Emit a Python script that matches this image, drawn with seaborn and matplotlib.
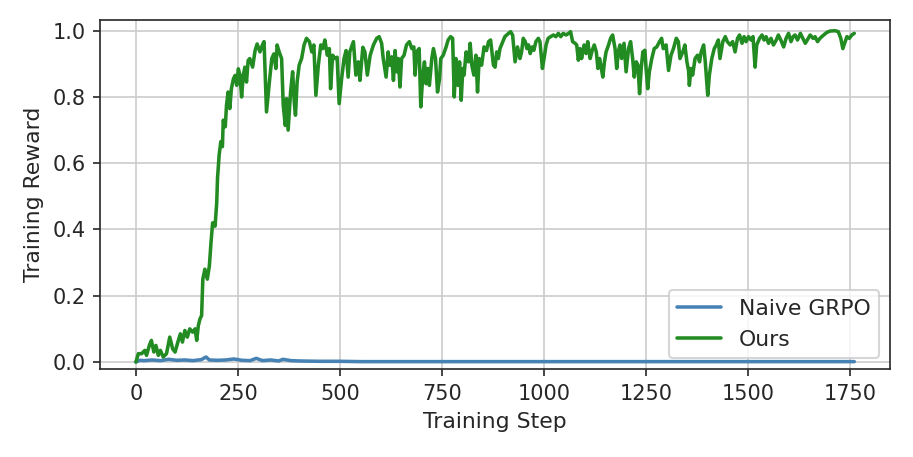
import pandas as pd
import matplotlib
matplotlib.use("Agg")
import matplotlib.pyplot as plt
import seaborn as sns

# -----------------------------
# Datos
# -----------------------------
naive_steps = [0, 10, 20, 40, 60, 80, 100, 120, 140, 160, 172, 180, 200, 220, 240,
               260, 280, 295, 310, 330, 350, 360, 380, 400, 450, 500, 550, 700,
               900, 1100, 1300, 1500, 1700, 1760]
naive_reward = [0.0, 0.005, 0.004, 0.006, 0.004, 0.008, 0.005, 0.006, 0.004, 0.007,
                0.015, 0.006, 0.005, 0.006, 0.009, 0.005, 0.004, 0.011, 0.004, 0.006,
                0.003, 0.008, 0.004, 0.003, 0.002, 0.002, 0.001, 0.001,
                0.001, 0.001, 0.001, 0.001, 0.001, 0.001]

ours_steps = [
    0, 6, 14, 22, 26, 33, 38, 44, 49, 55, 60, 67, 75, 83, 90, 96, 104, 109, 114, 120,
    126, 132, 139, 145, 149, 153, 157, 161, 164, 169, 175, 180, 184, 188, 194, 198, 200,
    204, 208, 212, 214, 219, 222, 226, 230, 234, 239, 243, 247, 251, 255, 259, 263, 267,
    271, 275,
    279, 286, 292, 297, 304, 310, 314, 320, 327, 333, 338, 343, 346, 351, 357, 361, 366,
    369, 373, 379, 384, 388, 391, 395, 400, 406, 412, 418, 425, 431, 436, 441, 447, 453,
    458, 463, 469, 474, 477, 482, 488, 493, 498, 504, 510, 515, 520, 524, 533, 539, 545,
    549, 556, 561, 567, 574,
    582, 590, 596, 602, 606, 613, 618, 622, 627, 631, 635, 639, 643, 647, 651, 657, 663,
    670, 676, 681, 684, 688, 694, 698, 703, 707, 711, 715, 719, 725, 729, 734, 739, 744,
    747, 753, 760, 765, 771, 776, 780, 784, 789, 793, 797, 801, 804, 809, 815, 819, 823,
    828, 833, 837, 841, 847, 853, 859, 864, 869,
    876, 880, 884, 888, 892, 899, 904, 913, 918, 923, 929, 935, 941, 945, 949, 954, 958,
    962, 966, 971, 975, 980, 986, 990, 996, 1000, 1005, 1010, 1016, 1023, 1029, 1035,
    1041, 1047, 1054, 1060, 1065, 1070, 1076, 1080, 1084, 1088, 1092, 1098, 1103, 1107,
    1113, 1118, 1123, 1128, 1132, 1136, 1139, 1144, 1148, 1152, 1158, 1163,
    1168, 1174, 1178, 1182, 1186, 1190, 1196, 1201, 1207, 1212, 1217, 1221, 1226, 1230,
    1234, 1238, 1242, 1247, 1250, 1254, 1258, 1264, 1270, 1276, 1283, 1288, 1292, 1299,
    1305, 1311, 1317, 1324, 1329, 1333, 1340, 1345, 1350, 1354, 1356, 1360, 1364, 1370,
    1376, 1381, 1385, 1391, 1395, 1401, 1405, 1411, 1417, 1422, 1427, 1431, 1438, 1444,
    1449, 1456,
    1462, 1468, 1474, 1479, 1485, 1490, 1495, 1501, 1507, 1512, 1517, 1521, 1528, 1534,
    1539, 1544, 1550, 1556, 1562, 1569, 1574, 1580, 1587, 1593, 1599, 1605, 1610, 1615,
    1621, 1628, 1634, 1640, 1645, 1652, 1659, 1664, 1670, 1676, 1685, 1693, 1701, 1713,
    1721, 1727, 1732, 1738, 1742, 1748, 1754, 1760]
ours_reward = [
    0.0, 0.025, 0.025, 0.035, 0.02, 0.05, 0.065, 0.03, 0.05, 0.02, 0.035, 0.015, 0.025,
    0.075, 0.04, 0.03, 0.065, 0.085, 0.06, 0.095, 0.075, 0.10, 0.09, 0.10, 0.065, 0.11,
    0.13, 0.14, 0.25, 0.28, 0.25, 0.29, 0.36, 0.42, 0.41, 0.48, 0.555, 0.625, 0.665, 0.65,
    0.73, 0.71, 0.775, 0.815, 0.765, 0.825, 0.855, 0.865, 0.835, 0.885, 0.865, 0.80, 0.865,
    0.89, 0.845, 0.91,
    0.916, 0.89, 0.94, 0.96, 0.936, 0.957, 0.967, 0.755, 0.845, 0.916, 0.93, 0.886, 0.957,
    0.936, 0.916, 0.775, 0.714, 0.795, 0.70, 0.815, 0.876, 0.785, 0.745, 0.845, 0.896,
    0.916, 0.957, 0.977, 0.967, 0.936, 0.957, 0.805, 0.896, 0.957, 0.946, 0.972, 0.926,
    0.946, 0.825, 0.926, 0.916, 0.92, 0.78, 0.855, 0.916, 0.94, 0.86, 0.936, 0.967, 0.866,
    0.906, 0.85, 0.95, 0.936, 0.866, 0.926,
    0.957, 0.977, 0.982, 0.962, 0.916, 0.86, 0.936, 0.896, 0.921, 0.85, 0.94, 0.876, 0.916,
    0.83, 0.916, 0.926, 0.957, 0.967, 0.946, 0.951, 0.866, 0.936, 0.946, 0.77, 0.866, 0.906,
    0.84, 0.886, 0.835, 0.916, 0.946, 0.916, 0.815, 0.855, 0.916, 0.926, 0.951, 0.972,
    0.982, 0.977, 0.80, 0.916, 0.835, 0.906, 0.79, 0.886, 0.866, 0.936, 0.906, 0.962, 0.896,
    0.866, 0.926, 0.815, 0.916, 0.896, 0.951, 0.94, 0.967, 0.972,
    0.896, 0.89, 0.936, 0.916, 0.946, 0.967, 0.982, 0.992, 0.997, 0.987, 0.906, 0.951,
    0.916, 0.936, 0.977, 0.967, 0.946, 0.957, 0.931, 0.951, 0.941, 0.967, 0.977, 0.967,
    0.886, 0.916, 0.957, 0.977, 0.982, 0.987, 0.982, 0.992, 0.982, 0.992, 0.987, 0.992,
    0.997, 0.967, 0.962, 0.957, 0.911, 0.946, 0.916, 0.957, 0.931, 0.967, 0.916, 0.941,
    0.957, 0.936, 0.886, 0.916, 0.896, 0.86, 0.906, 0.936, 0.957, 0.977,
    0.987, 0.946, 0.886, 0.936, 0.957, 0.916, 0.962, 0.876, 0.946, 0.967, 0.916, 0.86,
    0.906, 0.896, 0.81, 0.886, 0.936, 0.941, 0.886, 0.825, 0.876, 0.916, 0.946, 0.951,
    0.967, 0.977, 0.946, 0.957, 0.88, 0.926, 0.946, 0.977, 0.967, 0.916, 0.936, 0.957,
    0.906, 0.88, 0.835, 0.886, 0.866, 0.916, 0.926, 0.906, 0.936, 0.957, 0.906, 0.805,
    0.866, 0.916, 0.946, 0.957, 0.972, 0.916, 0.967, 0.982, 0.967, 0.957,
    0.967, 0.936, 0.977, 0.987, 0.962, 0.982, 0.967, 0.982, 0.972, 0.982, 0.89, 0.957,
    0.977, 0.987, 0.972, 0.982, 0.962, 0.977, 0.957, 0.972, 0.987, 0.972, 0.951, 0.977,
    0.992, 0.967, 0.982, 0.987, 0.972, 0.992, 0.977, 0.962, 0.972, 0.987, 0.977, 0.982,
    0.967, 0.977, 0.987, 0.995, 0.999, 1.0, 0.997, 0.977, 0.946, 0.967, 0.982, 0.977,
    0.987, 0.992]

# -----------------------------
# Estilo
# -----------------------------
sns.set_style("ticks")
plt.rcParams["font.family"] = ["DejaVu Sans"]

fig, ax = plt.subplots(figsize=(913 / 150, 457 / 150), dpi=150)
fig.subplots_adjust(left=0.1095, right=0.975, top=0.956, bottom=0.192)

sns.lineplot(x=naive_steps, y=naive_reward, ax=ax, color="#4682b4",
             linewidth=1.7, label="Naive GRPO")
sns.lineplot(x=ours_steps, y=ours_reward, ax=ax, color="#228b22",
             linewidth=1.7, label="Ours")

ax.grid(True, color="#cccccc", linewidth=0.8)
ax.set_xlim(-88, 1848)
ax.set_ylim(-0.022, 1.032)
ax.set_xticks([0, 250, 500, 750, 1000, 1250, 1500, 1750])
ax.set_yticks([0.0, 0.2, 0.4, 0.6, 0.8, 1.0])
ax.tick_params(labelsize=10)
ax.set_xlabel("Training Step", fontsize=10.5)
ax.set_ylabel("Training Reward", fontsize=10.5)
ax.legend(loc="lower right", fontsize=10.5)

plt.savefig("out.png", dpi=150)
plt.close()
